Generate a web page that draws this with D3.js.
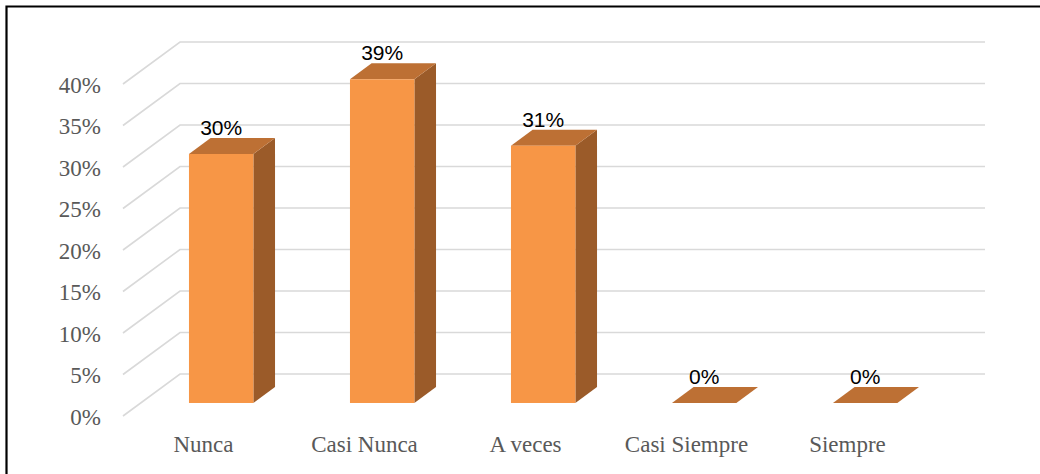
<!DOCTYPE html>
<html>
<head>
<meta charset="utf-8">
<script src="https://cdn.jsdelivr.net/npm/d3@7"></script>
<style>
  html, body { margin: 0; padding: 0; background: #fff; }
  svg { display: block; }
</style>
</head>
<body>
<div id="chart"></div>
<script>
// data
const categories = ["Nunca", "Casi Nunca", "A veces", "Casi Siempre", "Siempre"];
const values = [0.30, 0.39, 0.31, 0.00, 0.00];
const tickValues = [0, 0.05, 0.10, 0.15, 0.20, 0.25, 0.30, 0.35, 0.40];

const width = 1040, height = 474;
const depthX = 57, depthY = 42;      // projection of the full depth of the box
const zFront = 0.31, zBack = 0.69;   // bar position in depth

const svg = d3.select("#chart").append("svg")
  .attr("width", width)
  .attr("height", height);

const x = d3.scaleBand()
  .domain(categories)
  .range([123, 928]);

const y = d3.scaleLinear()
  .domain([0, 0.40])
  .range([416, 84]);

const fmt = d3.format(".0%");
const serif = "'Liberation Serif', 'Times New Roman', serif";

// project a point (px, py) at depth z
const proj = (px, py, z) => [px + z * depthX, py - z * depthY];

// gridlines: diagonal on the side wall + horizontal on the back wall
const grid = svg.append("g")
  .attr("fill", "none")
  .attr("stroke", "#d9d9d9")
  .attr("stroke-width", 1.6);

grid.selectAll("path")
  .data(tickValues)
  .join("path")
    .attr("d", t => {
      const [bx, by] = proj(x.range()[0], y(t), 1);
      const [ex] = proj(x.range()[1], y(t), 1);
      return `M${x.range()[0]},${y(t)}L${bx},${by}H${ex}`;
    });

// y tick labels
svg.append("g")
  .selectAll("text")
  .data(tickValues)
  .join("text")
    .attr("x", 101)
    .attr("y", t => y(t) + 8.5)
    .attr("text-anchor", "end")
    .style("font-family", serif)
    .style("font-size", "23px")
    .attr("fill", "#595959")
    .text(t => fmt(t));

// bars
const barW = x.bandwidth() * 0.4;
const bars = svg.append("g")
  .selectAll("g")
  .data(categories.map((c, i) => ({ cat: c, value: values[i] })))
  .join("g");

const barGeom = d => {
  const x0 = x(d.cat) + (x.bandwidth() - barW) / 2;
  const x1 = x0 + barW;
  const [fx0, fyBase] = proj(x0, y(0), zFront);
  const [fx1] = proj(x1, y(0), zFront);
  const fyTop = fyBase - (y(0) - y(d.value));
  const dx = (zBack - zFront) * depthX, dy = (zBack - zFront) * depthY;
  return { fx0, fx1, fyBase, fyTop, dx, dy };
};

bars.filter(d => d.value > 0).append("path")
  .attr("fill", "#9b5b29")
  .attr("d", d => {
    const g = barGeom(d);
    return `M${g.fx1},${g.fyTop}L${g.fx1 + g.dx},${g.fyTop - g.dy}V${g.fyBase - g.dy}L${g.fx1},${g.fyBase}Z`;
  });

bars.append("path")
  .attr("fill", "#bd7034")
  .attr("d", d => {
    const g = barGeom(d);
    return `M${g.fx0},${g.fyTop}L${g.fx1},${g.fyTop}L${g.fx1 + g.dx},${g.fyTop - g.dy}L${g.fx0 + g.dx},${g.fyTop - g.dy}Z`;
  });

bars.filter(d => d.value > 0).append("rect")
  .attr("fill", "#f79646")
  .attr("x", d => barGeom(d).fx0)
  .attr("y", d => barGeom(d).fyTop)
  .attr("width", barW)
  .attr("height", d => { const g = barGeom(d); return g.fyBase - g.fyTop; });

// data labels
bars.append("text")
  .attr("x", d => { const g = barGeom(d); return (g.fx0 + g.fx1) / 2; })
  .attr("y", d => { const g = barGeom(d); return g.fyTop - g.dy - 3; })
  .attr("text-anchor", "middle")
  .style("font-family", "'Liberation Sans', Arial, sans-serif")
  .style("font-size", "21px")
  .attr("fill", "#000")
  .text(d => fmt(d.value));

// category labels
svg.append("g")
  .selectAll("text")
  .data(categories)
  .join("text")
    .attr("x", c => x(c) + x.bandwidth() / 2)
    .attr("y", 452)
    .attr("text-anchor", "middle")
    .style("font-family", serif)
    .style("font-size", "23px")
    .attr("fill", "#595959")
    .text(c => c);

// frame
svg.append("path")
  .attr("d", `M6.5,${height}V6.5H${width}`)
  .attr("fill", "none")
  .attr("stroke", "#000")
  .attr("stroke-width", 2.2);
</script>
</body>
</html>
